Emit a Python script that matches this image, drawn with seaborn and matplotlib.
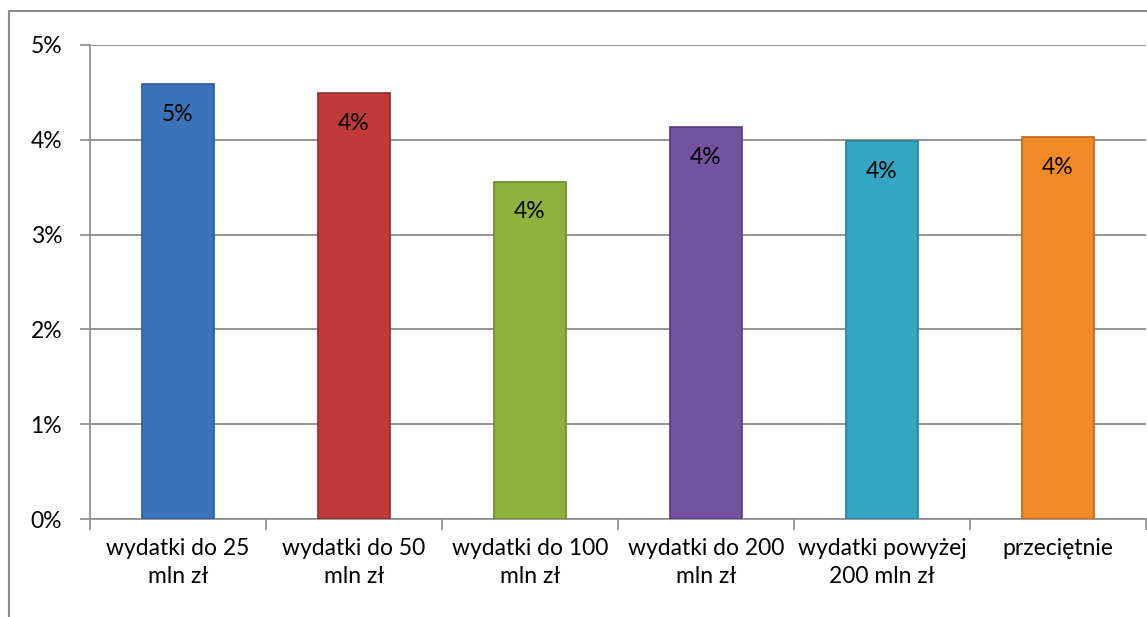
import matplotlib
matplotlib.use('Agg')
import matplotlib.pyplot as plt
import seaborn as sns
import pandas as pd
from matplotlib.ticker import PercentFormatter, FixedLocator
from matplotlib.lines import Line2D

# Data
categories = ['wydatki do 25\nmln zł', 'wydatki do 50\nmln zł', 'wydatki do 100\nmln zł',
              'wydatki do 200\nmln zł', 'wydatki powyżej\n200 mln zł', 'przeciętnie']
values = [4.59, 4.49, 3.56, 4.13, 3.99, 4.03]
bar_labels = ['5%', '4%', '4%', '4%', '4%', '4%']
colors = ['#3B72B9', '#C03A3A', '#8DB33C', '#7352A0', '#33A6C4', '#F28A26']
edges = ['#2A5A93', '#93292A', '#6B8A2A', '#56397D', '#23809A', '#C0661A']

sns.set_theme(style='white')
plt.rcParams['font.family'] = ['Lato', 'DejaVu Sans']

df = pd.DataFrame({'cat': categories, 'val': values})

fig = plt.figure(figsize=(11.47, 6.17), dpi=100)
ax = fig.add_axes([90 / 1147, 1 - 519 / 617, 1056 / 1147, 474 / 617])

sns.barplot(data=df, x='cat', y='val', hue='cat', palette=colors, legend=False,
            width=0.41, ax=ax, saturation=1, zorder=3)
for p, ec in zip(ax.patches, edges):
    p.set_edgecolor(ec)
    p.set_linewidth(1.2)

for i, (v, lab) in enumerate(zip(values, bar_labels)):
    ax.text(i, v - 0.32, lab, ha='center', va='center', fontsize=16.5, color='black', zorder=4)

ax.set_xlim(-0.5, 5.5)
ax.set_ylim(0, 5)
ax.yaxis.set_major_formatter(PercentFormatter(decimals=0))
ax.set_yticks([0, 1, 2, 3, 4, 5])
ax.grid(axis='y', color='#8A8A8A', linewidth=1.3, zorder=0)
ax.set_axisbelow(True)

ax.set_xlabel('')
ax.set_ylabel('')
ax.tick_params(axis='y', labelsize=16.5, length=7, width=1.2, color='#8A8A8A',
               direction='out', left=True, pad=13, labelcolor='black')
ax.tick_params(axis='x', which='major', labelsize=16.5, length=0, pad=14, labelcolor='black')
ax.xaxis.set_minor_locator(FixedLocator([-0.5, 0.5, 1.5, 2.5, 3.5, 4.5, 5.5]))
ax.tick_params(axis='x', which='minor', length=8, width=1.2, color='#8A8A8A',
               direction='out', bottom=True)
for lbl in ax.get_xticklabels():
    lbl.set_multialignment('center')
    lbl.set_linespacing(1.4)

for s in ['top', 'right']:
    ax.spines[s].set_visible(False)
for s in ['left', 'bottom']:
    ax.spines[s].set_color('#8A8A8A')
    ax.spines[s].set_linewidth(1.2)

# chart area border (top and left are visible in the reference)
fig.add_artist(Line2D([9 / 1147, 1], [1 - 11 / 617, 1 - 11 / 617], color='#8A8A8A', lw=1.5))
fig.add_artist(Line2D([9 / 1147, 9 / 1147], [0, 1 - 11 / 617], color='#8A8A8A', lw=1.5))

fig.savefig('out.png', dpi=100)
